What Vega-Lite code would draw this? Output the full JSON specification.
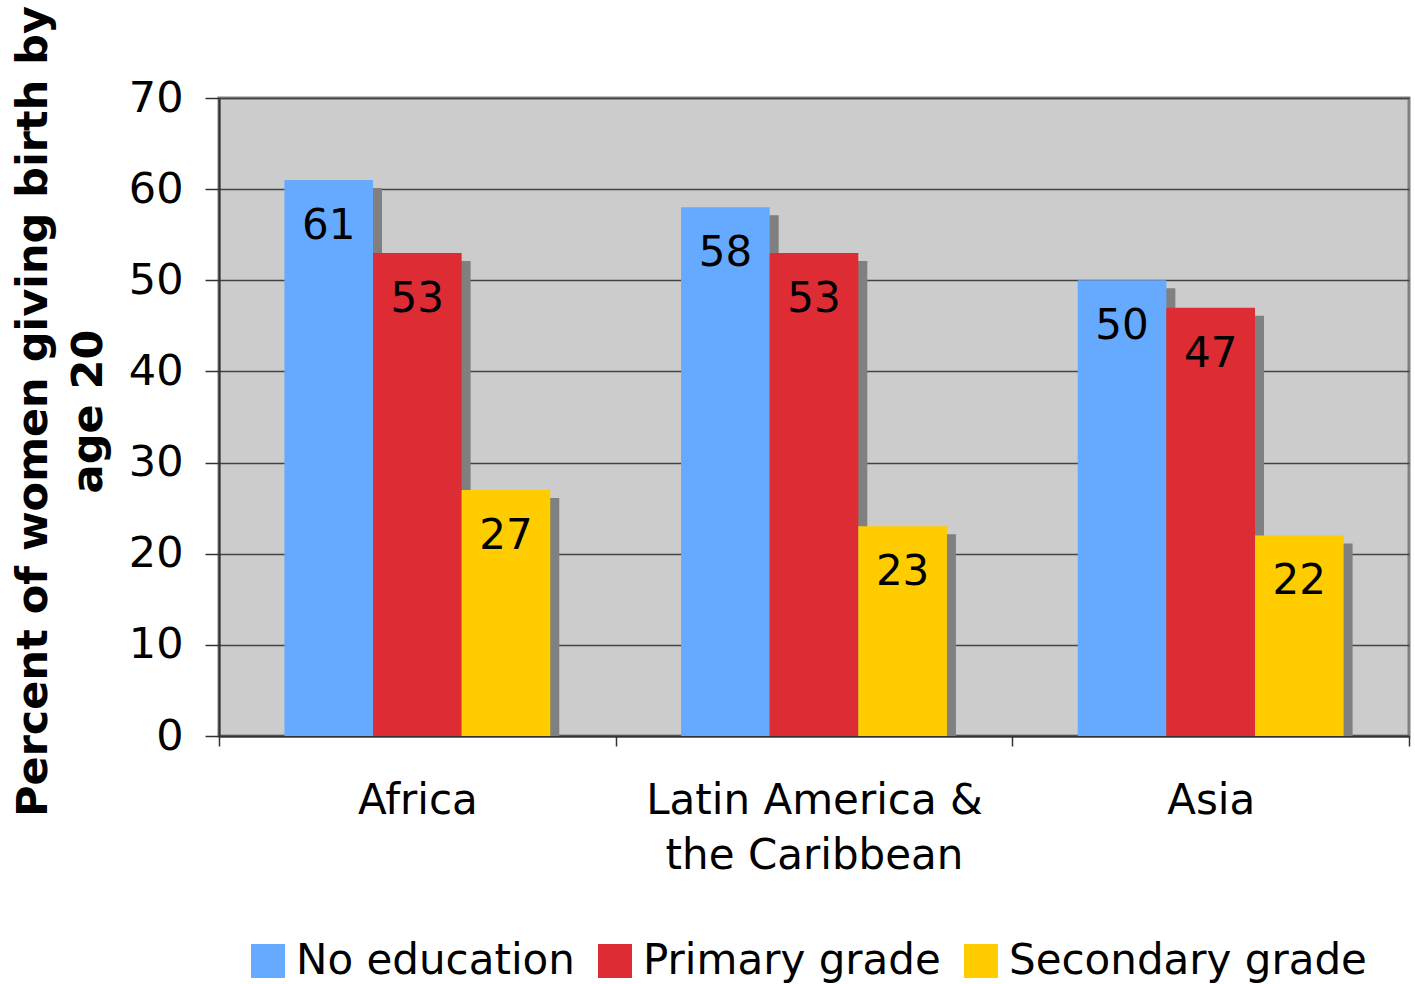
{
  "$schema": "https://vega.github.io/schema/vega-lite/v6.json",
  "width": 1190,
  "height": 638,
  "autosize": {"type": "none"},
  "padding": {"left": 219, "top": 98, "right": 6, "bottom": 248},
  "background": "white",
  "config": {
    "font": "DejaVu Sans",
    "view": {"fill": "#cccccc", "stroke": "#808080", "strokeWidth": 3}
  },
  "data": {
    "values": [
      {"region": "Africa", "level": "No education", "pct": 61},
      {"region": "Africa", "level": "Primary grade", "pct": 53},
      {"region": "Africa", "level": "Secondary grade", "pct": 27},
      {"region": "Latin America & the Caribbean", "level": "No education", "pct": 58},
      {"region": "Latin America & the Caribbean", "level": "Primary grade", "pct": 53},
      {"region": "Latin America & the Caribbean", "level": "Secondary grade", "pct": 23},
      {"region": "Asia", "level": "No education", "pct": 50},
      {"region": "Asia", "level": "Primary grade", "pct": 47},
      {"region": "Asia", "level": "Secondary grade", "pct": 22}
    ]
  },
  "encoding": {
    "x": {
      "field": "region",
      "type": "nominal",
      "sort": ["Africa", "Latin America & the Caribbean", "Asia"],
      "scale": {"paddingInner": 0, "paddingOuter": 0},
      "axis": {
        "title": null,
        "labelAngle": 0,
        "labelFontSize": 42,
        "labelColor": "black",
        "labelLineHeight": 55,
        "labelPadding": 34,
        "labelLimit": 700,
        "labelExpr": "datum.value == 'Latin America & the Caribbean' ? ['Latin America &', 'the Caribbean'] : datum.value",
        "tickBand": "extent",
        "tickSize": 10,
        "tickColor": "#333333",
        "tickWidth": 1.5,
        "domainColor": "#333333",
        "domainWidth": 2
      }
    },
    "y": {
      "field": "pct",
      "type": "quantitative",
      "scale": {"domain": [0, 70]},
      "axis": {
        "title": ["Percent of women giving birth by", "age 20"],
        "titleFontSize": 43,
        "titleFontWeight": "bold",
        "titleColor": "black",
        "titleLineHeight": 55,
        "titleX": -164,
        "titleY": 313,
        "titleAngle": 270,
        "titleBaseline": "bottom",
        "titleAlign": "center",
        "values": [0, 10, 20, 30, 40, 50, 60, 70],
        "labelFontSize": 43,
        "labelColor": "black",
        "labelPadding": 22,
        "tickSize": 14,
        "tickColor": "#333333",
        "tickWidth": 1.5,
        "domainColor": "#333333",
        "domainWidth": 2,
        "grid": true,
        "gridColor": "#444444",
        "gridWidth": 1.5
      }
    }
  },
  "layer": [
    {
      "mark": {"type": "bar", "color": "#808080", "yOffset": 8},
      "encoding": {
        "xOffset": {
          "field": "level",
          "type": "nominal",
          "sort": ["No education", "Primary grade", "Secondary grade"],
          "scale": {"paddingInner": 0, "paddingOuter": 0.738, "align": 0.5688}
        },
        "y2": {"datum": 0}
      }
    },
    {
      "encoding": {
        "xOffset": {
          "field": "level",
          "type": "nominal",
          "sort": ["No education", "Primary grade", "Secondary grade"],
          "scale": {"paddingInner": 0, "paddingOuter": 0.738}
        }
      },
      "layer": [
        {
          "mark": {"type": "bar"},
          "encoding": {
            "color": {
              "field": "level",
              "type": "nominal",
              "sort": ["No education", "Primary grade", "Secondary grade"],
              "scale": {"range": ["#66aaff", "#dd2c33", "#ffcc00"]},
              "legend": {
                "title": null,
                "orient": "none",
                "legendX": 28,
                "legendY": 842,
                "direction": "horizontal",
                "symbolType": "square",
                "symbolSize": 1156,
                "symbolStrokeWidth": 0,
                "symbolOpacity": 1,
                "labelFontSize": 42,
                "labelColor": "black",
                "labelOffset": 7,
                "columnPadding": 19,
                "labelLimit": 500
              }
            }
          }
        },
        {
          "mark": {"type": "text", "fontSize": 42, "color": "black", "baseline": "middle", "dy": 46},
          "encoding": {"text": {"field": "pct", "type": "quantitative"}}
        }
      ]
    }
  ],
  "resolve": {"scale": {"xOffset": "independent"}}
}
